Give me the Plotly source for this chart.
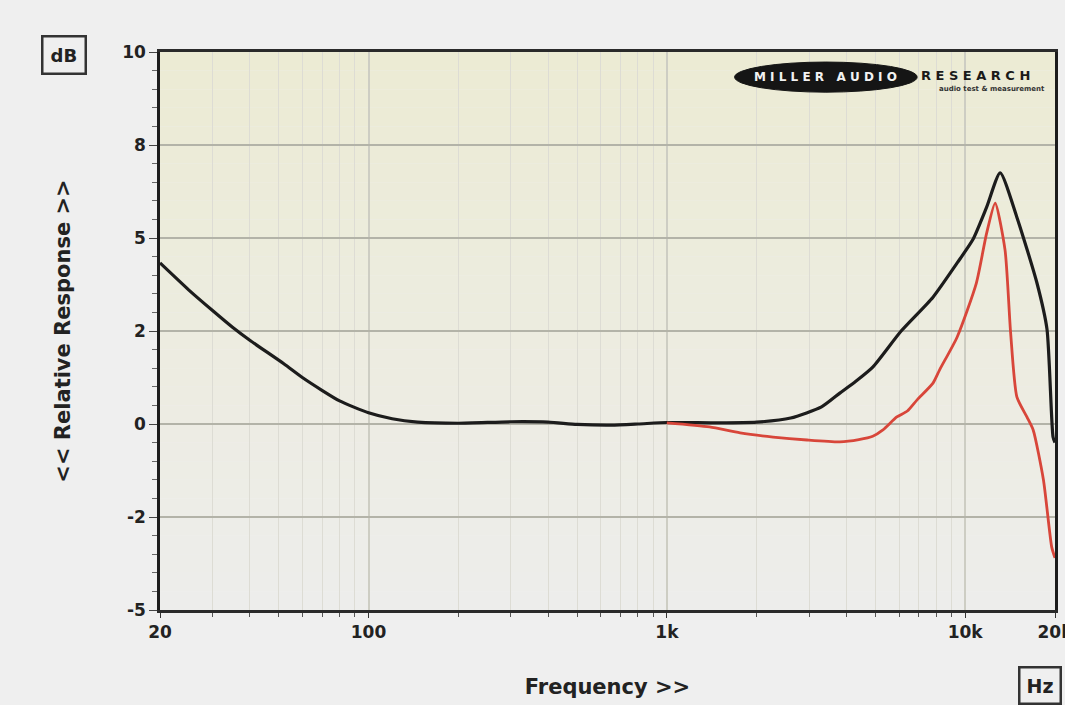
import plotly.graph_objects as go

# ---- data ----
black_freq = [20, 25, 30, 35, 40, 52, 60, 70, 80, 100, 120, 146, 200, 300, 400, 500, 650, 800,
              1000, 1500, 2000, 2600, 3300, 3800, 4300, 4900, 6100, 7800, 9400, 10600, 11800,
              13100, 14900, 17400, 18800, 19700, 20000]
black_db = [4.33, 3.6, 3.05, 2.6, 2.25, 1.62, 1.25, 0.9, 0.62, 0.3, 0.14, 0.05, 0.02, 0.06, 0.05,
            -0.01, -0.03, 0.0, 0.04, 0.03, 0.05, 0.16, 0.46, 0.83, 1.15, 1.53, 2.5, 3.41, 4.33,
            4.95, 5.83, 6.75, 5.56, 3.79, 2.55, -0.35, -0.5]

red_freq = [1000, 1390, 1760, 2270, 2950, 3800, 4400, 4900, 5300, 5900, 6400, 6900, 7800, 8200,
            9400, 10900, 11800, 12600, 13600, 14200, 14900, 16100, 16900, 18300, 19500, 20000]
red_db = [0.03, -0.08, -0.24, -0.35, -0.43, -0.48, -0.42, -0.33, -0.16, 0.19, 0.35, 0.65, 1.1,
          1.45, 2.34, 3.79, 5.13, 5.94, 4.68, 2.45, 0.73, 0.19, -0.16, -1.51, -3.31, -3.6]

x_tickvals = [20, 100, 1000, 10000, 20000]
x_ticktext = ["20", "100", "1k", "10k", "20k"]
y_tickvals = [-5, -2.5, 0, 2.5, 5, 7.5, 10]
y_ticktext = ["-5", "-2", "0", "2", "5", "8", "10"]

fig = go.Figure()

fig.add_trace(go.Scatter(x=black_freq, y=black_db, mode="lines",
                         line=dict(color="#1c1c1c", width=3.2, shape="spline", smoothing=0.6),
                         showlegend=False, hoverinfo="skip"))
fig.add_trace(go.Scatter(x=red_freq, y=red_db, mode="lines",
                         line=dict(color="#d8463a", width=2.8, shape="spline", smoothing=0.6),
                         showlegend=False, hoverinfo="skip"))

# background gradient (cream at top to light grey at bottom)
shapes = []
n = 30
top = (236, 235, 212)
bot = (237, 237, 235)
for i in range(n):
    t = i / (n - 1)
    c = tuple(int(round(top[k] + (bot[k] - top[k]) * t)) for k in range(3))
    shapes.append(dict(type="rect", xref="paper", yref="paper",
                       x0=0, x1=1, y0=1 - (i + 1) / n, y1=1 - i / n,
                       fillcolor="rgb(%d,%d,%d)" % c, line=dict(width=0), layer="below"))

# logo ellipse
shapes.append(dict(type="circle", xref="paper", yref="paper",
                   x0=0.642, x1=0.846, y0=0.928, y1=0.982,
                   fillcolor="#151515", line=dict(color="#151515", width=1), layer="above"))
fig.update_layout(shapes=shapes)

FONT = "DejaVu Sans, Verdana, sans-serif"
bold = dict(family=FONT, color="#222222", weight="bold")

fig.update_layout(
    width=1065, height=705, autosize=False,
    margin=dict(l=160, r=10, t=52, b=95),
    paper_bgcolor="#efefef",
    plot_bgcolor="rgba(0,0,0,0)",
    xaxis=dict(
        type="log", range=[1.30103, 4.30103],
        tickvals=x_tickvals, ticktext=x_ticktext,
        tickfont=dict(size=17, **bold), ticklabeloverflow="allow",
        ticks="outside", ticklen=5, tickcolor="#333",
        showgrid=True, gridcolor="#cdcdc3", gridwidth=1.5,
        minor=dict(dtick="D1", showgrid=True, gridcolor="#dddcd4", gridwidth=1,
                   ticks="outside", ticklen=4, tickcolor="#555"),
        showline=True, linecolor="#2a2a2a", linewidth=3, mirror=True,
        title=dict(text="Frequency >>", font=dict(size=21, **bold), standoff=38),
        automargin="height",
        zeroline=False,
    ),
    yaxis=dict(
        range=[-5, 10],
        tickvals=y_tickvals, ticktext=y_ticktext,
        tickfont=dict(size=17, **bold),
        ticks="outside", ticklen=8, tickcolor="#444",
        showgrid=True, gridcolor="#b3b3a8", gridwidth=1.5,
        minor=dict(dtick=0.5, ticks="outside", ticklen=5, tickcolor="#666", showgrid=False),
        showline=True, linecolor="#1c1c1c", linewidth=2.5, mirror=True,
        title=dict(text="<< Relative Response >>", font=dict(size=21, **bold), standoff=46),
        automargin="left",
        zeroline=False,
    ),
    annotations=[
        dict(text="dB", xref="paper", yref="paper", x=-0.107, y=0.994, showarrow=False,
             font=dict(size=18, **bold), bordercolor="#333", borderwidth=2.5, borderpad=7,
             xanchor="center", yanchor="middle"),
        dict(text="Hz", xref="paper", yref="paper", x=0.9587, y=-0.136, showarrow=False,
             font=dict(size=19, **bold), bordercolor="#333", borderwidth=2.5, borderpad=6,
             xanchor="left", yanchor="middle"),
        dict(text="M I L L E R   A U D I O", xref="paper", yref="paper", x=0.744, y=0.956,
             showarrow=False,
             font=dict(size=12, family=FONT, color="#f2f2f2", weight="bold"),
             xanchor="center", yanchor="middle"),
        dict(text="R E S E A R C H", xref="paper", yref="paper", x=0.848, y=0.958,
             showarrow=False,
             font=dict(size=13, family=FONT, color="#1a1a1a", weight="bold"),
             xanchor="left", yanchor="middle"),
        dict(text="audio test & measurement", xref="paper", yref="paper", x=0.93, y=0.934,
             showarrow=False, font=dict(size=7, family=FONT, color="#333", weight="bold"),
             xanchor="center", yanchor="middle"),
    ],
)

fig.write_html("out.html", config={"displayModeBar": False},
               post_script="document.body.style.margin='0';document.body.style.background='#efefef';")
